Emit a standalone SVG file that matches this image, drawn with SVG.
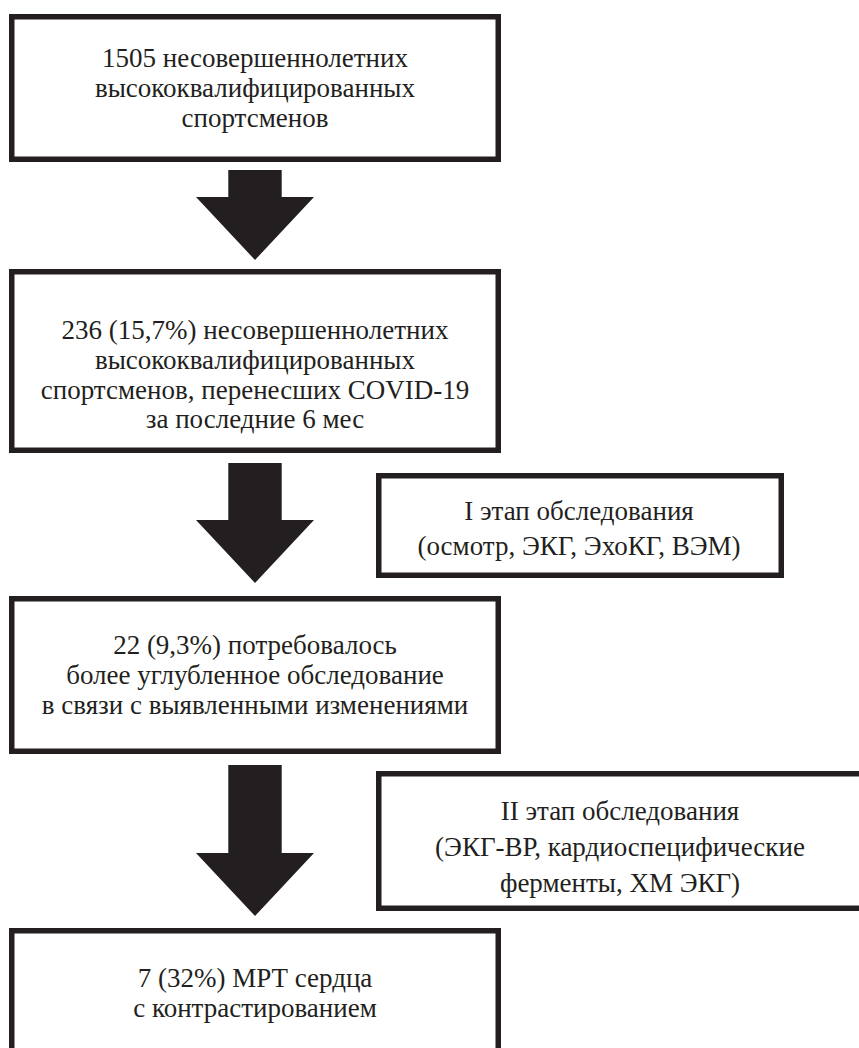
<svg xmlns="http://www.w3.org/2000/svg" width="859" height="1048" viewBox="0 0 859 1048">
<style>
.box{fill:#ffffff;stroke:#231f20;stroke-width:5.5}
.arr{fill:#231f20}
text{font-family:"Liberation Serif","Times New Roman",serif;font-size:27px;fill:#231f20;text-anchor:middle}
</style>
<rect width="859" height="1048" fill="#ffffff"/>
<g id="connectors">
<polygon class="arr" points="228.3,170 281.7,170 281.7,197 314,197 255,260 196,197 228.3,197"/>
<polygon class="arr" points="228.3,463 281.7,463 281.7,520 314,520 255,583 196,520 228.3,520"/>
<polygon class="arr" points="228.3,765 281.7,765 281.7,853 314,853 255,916 196,853 228.3,853"/>
</g>
<g id="n1">
<rect class="box" x="11.75" y="16.75" width="486.5" height="142.5"/>
<text x="255" y="67">1505 несовершеннолетних</text>
<text x="255" y="97">высококвалифицированных</text>
<text x="255" y="127">спортсменов</text>
</g>
<g id="n2">
<rect class="box" x="11.75" y="271.75" width="486.5" height="178.5"/>
<text x="255" y="339">236 (15,7%) несовершеннолетних</text>
<text x="255" y="369">высококвалифицированных</text>
<text x="255" y="399">спортсменов, перенесших COVID-19</text>
<text x="255" y="428">за последние 6 мес</text>
</g>
<g id="n3">
<rect class="box" x="378.75" y="475.75" width="402.5" height="99.5"/>
<text x="579" y="520">I этап обследования</text>
<text x="579" y="555">(осмотр, ЭКГ, ЭхоКГ, ВЭМ)</text>
</g>
<g id="n4">
<rect class="box" x="11.75" y="598.75" width="486.5" height="152.5"/>
<text x="255" y="654">22 (9,3%) потребовалось</text>
<text x="255" y="684">более углубленное обследование</text>
<text x="255" y="714">в связи с выявленными изменениями</text>
</g>
<g id="n5">
<rect class="box" x="378.75" y="773.75" width="500" height="134.5"/>
<text x="620" y="820">II этап обследования</text>
<text x="620" y="856">(ЭКГ-ВР, кардиоспецифические</text>
<text x="620" y="892">ферменты, ХМ ЭКГ)</text>
</g>
<g id="n6">
<rect class="box" x="11.75" y="930.75" width="486.5" height="150"/>
<text x="255" y="987">7 (32%) МРТ сердца</text>
<text x="255" y="1017">с контрастированием</text>
</g>
</svg>
